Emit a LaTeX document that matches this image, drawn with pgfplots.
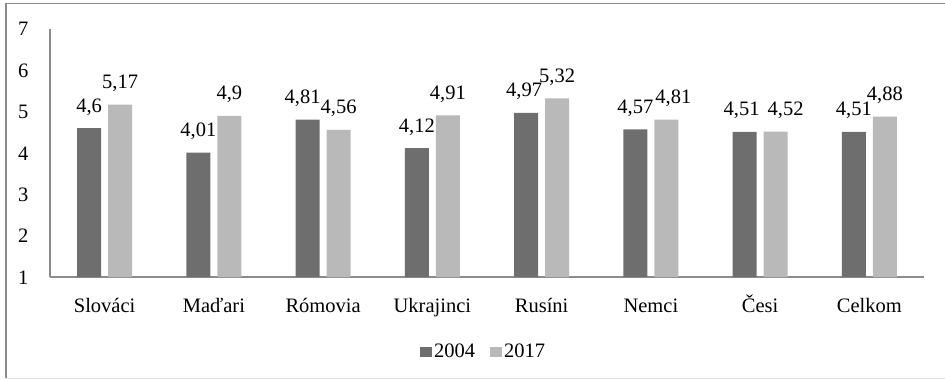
\documentclass[border=0pt]{standalone}
\usepackage{fontspec}
\setmainfont{Liberation Serif}
\usepackage{pgfplots}
\usepackage{pgfplotstable}
\pgfplotsset{compat=1.18}
\definecolor{darkbar}{HTML}{6E6E6E}
\definecolor{lightbar}{HTML}{B9B9B9}
\definecolor{axisgray}{HTML}{8C8C8C}
\pgfplotstableread{
x y dx
0 4.6 0
1 4.01 0
2 4.81 -5
3 4.12 0
4 4.97 -2
5 4.57 0
6 4.51 -3
7 4.51 0
}\dataA
\pgfplotstableread{
x y dx
0 5.17 0
1 4.9 0
2 4.56 0
3 4.91 0
4 5.32 0
5 4.81 7
6 4.52 10
7 4.88 0
}\dataB
\begin{document}
\begin{tikzpicture}[font=\fontsize{20.5}{24}\selectfont]
\useasboundingbox (-50pt,-103pt) rectangle (895pt,277pt);
\draw[color=black!45, line width=1.5pt] (-44pt,-101pt) -- (-44pt,273.5pt) -- (900pt,273.5pt);
\draw[color=black!12, line width=1pt] (-44pt,-101pt) -- (900pt,-101pt);
\begin{axis}[
  at={(0pt,0pt)}, anchor=south west,
  width=874pt, height=248pt, scale only axis,
  ymin=1, ymax=7, ytick={1,2,3,4,5,6,7},
  xmin=-0.5, xmax=7.5,
  xtick={0,1,2,3,4,5,6,7},
  xticklabels={Slováci,Maďari,Rómovia,Ukrajinci,Rusíni,Nemci,Česi,Celkom},
  ybar=7pt, bar width=24pt,
  axis x line*=bottom, axis y line*=left,
  axis line style={axisgray, line width=1.2pt, -},
  major tick length=0pt,
  tick label style={font=\fontsize{20.5}{24}\selectfont},
  /pgf/number format/assume math mode=true,
  yticklabel style={anchor=base east, xshift=-18pt, yshift=-7pt},
  xticklabel style={anchor=base, yshift=-35pt},
  legend style={at={(0.496,-0.302)}, anchor=center, draw=none, fill=none,
    font=\fontsize{20.5}{24}\selectfont, legend columns=2,
    inner sep=0pt, nodes={inner sep=2.5pt},
    /tikz/every even column/.append style={column sep=12pt}},
  sqlegend/.style={legend image code/.code={\fill[##1] (0pt,-5pt) rectangle (12pt,5pt);}},
  lbl/.style={nodes near coords,
    visualization depends on={\thisrow{dx} \as \myshift},
    every node near coord/.append style={font=\fontsize{20.5}{24}\selectfont, anchor=base, inner sep=0pt, yshift=16pt, xshift=\myshift pt,
    /pgf/number format/use comma, /pgf/number format/assume math mode=true}},
]
\addplot[fill=darkbar, draw=none, sqlegend, lbl] table[x=x, y=y] {\dataA};
\addplot[fill=lightbar, draw=none, sqlegend, lbl] table[x=x, y=y] {\dataB};
\legend{2004,2017}
\end{axis}
\end{tikzpicture}
\end{document}
